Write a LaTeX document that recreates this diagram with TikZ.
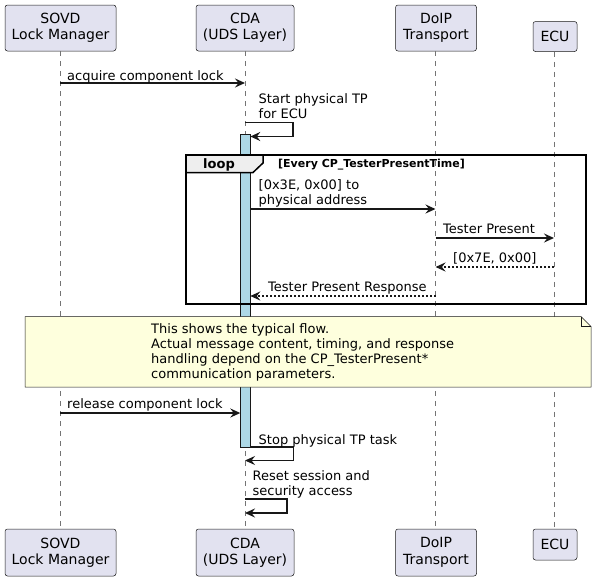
\documentclass[tikz,border=0pt]{standalone}
\usepackage{fontspec}
\setmainfont{DejaVu Sans}
\usetikzlibrary{arrows.meta}
\definecolor{partfill}{HTML}{E2E2F0}
\definecolor{linecol}{HTML}{181818}
\definecolor{actfill}{HTML}{ADD8E6}
\definecolor{notefill}{HTML}{FEFFDD}
\definecolor{tabfill}{HTML}{EEEEEE}
\begin{document}
\begin{tikzpicture}[x=1pt,y=-1pt]
      \tikzstyle{participant}=[draw=linecol,fill=partfill,line width=0.5pt,rounded corners=2.5pt,align=center,inner sep=0pt,font=\fontsize{14}{16.5}\selectfont]
      \tikzstyle{lifeline}=[draw=linecol!60,line width=0.5pt,dash pattern=on 5pt off 5pt]
      \tikzstyle{msg}=[draw=linecol,line width=1.5pt,-{Stealth[length=10pt,width=9pt,inset=3.5pt]}]
      \tikzstyle{reply}=[msg,dash pattern=on 2pt off 2pt]
      \tikzstyle{label}=[anchor=base west,inner sep=0pt,align=left,font=\fontsize{13}{15}\selectfont]
      \useasboundingbox (0,0) rectangle (596,581);
      \node[participant,minimum width=111pt,minimum height=46pt] (sovdT) at (60.5,28) {SOVD\\Lock Manager};
      \node[participant,minimum width=98pt,minimum height=46pt] (cdaT) at (245,28) {CDA\\(UDS Layer)};
      \node[participant,minimum width=81pt,minimum height=46pt] (doipT) at (436,28) {DoIP\\Transport};
      \node[participant,minimum width=44pt,minimum height=30pt] (ecuT) at (555,36.5) {ECU};
      \node[participant,minimum width=111pt,minimum height=47pt] (sovdB) at (60.5,552.5) {SOVD\\Lock Manager};
      \node[participant,minimum width=98pt,minimum height=47pt] (cdaB) at (245,552.5) {CDA\\(UDS Layer)};
      \node[participant,minimum width=81pt,minimum height=47pt] (doipB) at (436,552.5) {DoIP\\Transport};
      \node[participant,minimum width=44pt,minimum height=31pt] (ecuB) at (555,544.5) {ECU};
      \path[lifeline] ([xshift=-0.5pt]sovdT.south) -- ([xshift=-0.5pt]sovdB.north);
      \path[lifeline] (cdaT) -- (cdaB);
      \path[lifeline] ([xshift=-0.5pt]doipT.south) -- ([xshift=-0.5pt]doipB.north);
      \path[lifeline] ([xshift=-1pt]ecuT.south) -- ([xshift=-1pt]ecuB.north);
      \node[draw=linecol,fill=actfill,line width=0.5pt,inner sep=0pt,minimum width=10pt,minimum height=313pt] (act) at (245.3,291) {};
      \path[draw=linecol,fill=notefill,line width=0.5pt] (25,316.5) -- (581,316.5) -- (591,326.5) -- (591,387) -- (25,387) -- cycle;
      \path[draw=linecol,line width=0.5pt] (581,316.5) -- (581,326.5) -- (591,326.5);
      \node[label] (note) at (151,378) {This shows the typical flow.\\Actual message content, timing, and response\\handling depend on the CP\_TesterPresent*\\communication parameters.};
      \path[draw=black,line width=1.5pt] (186,155) rectangle (586,304);
      \path[draw=black,fill=tabfill,line width=1.5pt] (186,155) -- (263,155) -- (263,163) -- (253,172.5) -- (186,172.5) -- cycle;
      \node[anchor=base west,inner sep=0pt,font=\fontsize{13}{15}\bfseries] (loop) at (203,168) {loop};
      \node[anchor=base west,inner sep=0pt,font=\fontsize{11}{13}\bfseries] (guard) at (278,167.5) {[Every CP\_TesterPresentTime]};
      \coordinate (acqS) at (60,83);
      \coordinate (acqE) at (245,83);
      \coordinate (startS) at (245,122.5);
      \coordinate (startE) at (250.3,136.5);
      \coordinate (tpS) at (250.3,209);
      \coordinate (tpE) at (435.5,209);
      \coordinate (doipA) at (435.5,238);
      \coordinate (ecuA) at (554,238);
      \coordinate (ecuR) at (554,267);
      \coordinate (doipR) at (435.5,267);
      \coordinate (doipRR) at (435.5,296);
      \coordinate (cdaRR) at (250.3,296);
      \coordinate (relS) at (60,413);
      \coordinate (relE) at (240.3,413);
      \coordinate (stopS) at (250.3,447);
      \coordinate (stopE) at (245,460.5);
      \coordinate (resetS) at (245,499);
      \coordinate (resetE) at (245,513);
      \path[msg] (acqS) -- (acqE);
      \node[label] at (67,80) {acquire component lock};
      \path[msg] (startS) -- ++(48,0) |- (startE);
      \node[label] at (258.5,118) {Start physical TP\\for ECU};
      \path[msg] (tpS) -- (tpE);
      \node[label] at (258.5,204) {[0x3E, 0x00] to\\physical address};
      \path[msg] (doipA) -- (ecuA);
      \node[label] at (443,233) {Tester Present};
      \path[reply] (ecuR) -- (doipR);
      \node[label] at (453,262) {[0x7E, 0x00]};
      \path[reply] (doipRR) -- (cdaRR);
      \node[label] at (268,291.5) {Tester Present Response};
      \path[msg] (relS) -- (relE);
      \node[label] at (67,408) {release component lock};
      \path[msg] (stopS) -- ++(43,0) |- (stopE);
      \node[label] at (258.5,444) {Stop physical TP task};
      \path[msg] (resetS) -- ++(42,0) |- (resetE);
      \node[label] at (252.5,495) {Reset session and\\security access};
\end{tikzpicture}
\end{document}
